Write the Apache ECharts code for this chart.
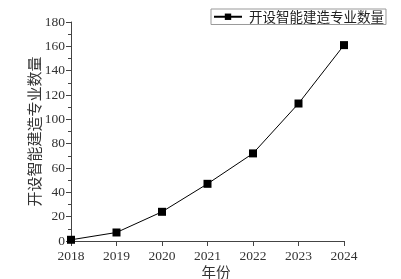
<!DOCTYPE html>
<html><head><meta charset="utf-8">
<script src="https://cdn.jsdelivr.net/npm/echarts@6/dist/echarts.min.js"></script>
<style>html,body{margin:0;padding:0;background:#fff}#c{width:401px;height:279px}</style>
</head><body><div id="c"></div>
<script>
const years = ['2018','2019','2020','2021','2022','2023','2024'];
const counts = [1, 7, 24, 47, 72, 113, 161];
const seriesName = '开设智能建造专业数量';
const xName = '年份';
const yName = '开设智能建造专业数量';

const numFont = '"Liberation Serif", "DejaVu Serif", serif';
const cjkFont = '"Noto Sans CJK SC", serif';
const chart = echarts.init(document.getElementById('c'), null, {renderer: 'canvas'});
chart.setOption({
  animation: false,
  backgroundColor: '#fff',
  grid: {left: 71, right: 57, top: 22, bottom: 38, containLabel: false, outerBoundsMode: 'none'},
  legend: {
    left: 211, top: 9,
    padding: [1, 2, 1, 2],
    borderColor: '#999', borderWidth: 1,
    itemWidth: 28, itemHeight: 8, itemGap: 4,
    textStyle: {fontFamily: cjkFont, fontSize: 13.5, color: '#222', padding: [0, 0, 0, 2]},
    data: [seriesName]
  },
  xAxis: {
    type: 'category', data: years, boundaryGap: false,
    name: xName, nameLocation: 'middle', nameGap: 24, nameMoveOverlap: false,
    nameTextStyle: {fontFamily: cjkFont, fontSize: 14.5, color: '#333', padding: [0, 0, 0, 17]},
    axisLine: {lineStyle: {color: '#444', width: 1}},
    axisTick: {show: true, inside: false, length: 5, alignWithLabel: true, lineStyle: {color: '#444'}},
    axisLabel: {fontFamily: numFont, fontSize: 13.5, color: '#333', margin: 8},
    splitLine: {show: false}
  },
  yAxis: {
    type: 'value', min: 0, max: 180, interval: 20,
    name: yName, nameLocation: 'middle', nameRotate: 90, nameGap: 29, nameMoveOverlap: false,
    nameTextStyle: {fontFamily: cjkFont, fontSize: 15, color: '#333'},
    axisLine: {show: true, lineStyle: {color: '#444', width: 1}},
    axisTick: {show: true, inside: false, length: 5, lineStyle: {color: '#444'}},
    minorTick: {show: true, splitNumber: 2, length: 3, lineStyle: {color: '#444'}},
    axisLabel: {fontFamily: numFont, fontSize: 13.5, color: '#333', margin: 6},
    splitLine: {show: false}
  },
  series: [{
    name: seriesName, type: 'line', data: counts,
    symbol: 'rect', symbolSize: 8,
    itemStyle: {color: '#000'},
    lineStyle: {color: '#000', width: 1}
  }]
});
</script></body></html>
